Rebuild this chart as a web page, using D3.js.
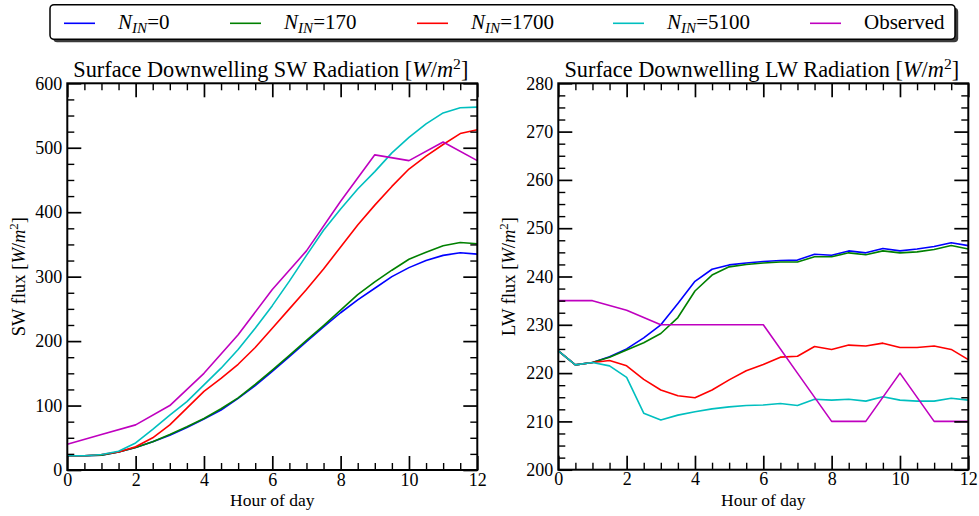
<!DOCTYPE html>
<html>
<head>
<meta charset="utf-8">
<script src="https://cdn.jsdelivr.net/npm/d3@7"></script>
<style>
  body { margin: 0; background: #fff; }
  svg { display: block; }
  text { font-family: "Liberation Serif", "Times New Roman", serif; fill: #000; }
</style>
</head>
<body>
<svg id="chart" width="979" height="516"></svg>
<script>
// Model output every half hour
const modelHours = [0, 0.5, 1, 1.5, 2, 2.5, 3, 3.5, 4, 4.5, 5, 5.5, 6, 6.5, 7, 7.5, 8, 8.5, 9, 9.5, 10, 10.5, 11, 11.5, 12];
// Observations every hour
const obsHours = [0, 1, 2, 3, 4, 5, 6, 7, 8, 9, 10, 11, 12];

// Surface downwelling shortwave [W/m^2]
const swN0    = [22, 22, 23, 28, 35, 44, 54, 66, 79, 93, 111, 131, 153, 176, 199, 222, 244, 264, 282, 300, 314, 325, 333, 337, 335];
const swN170  = [22, 22, 23, 28, 35, 44, 55, 67, 80, 95, 112, 133, 155, 178, 201, 224, 248, 272, 292, 310, 327, 338, 348, 353, 351];
const swN1700 = [22, 22, 24, 28, 36, 50, 70, 96, 122, 142, 164, 190, 220, 250, 280, 312, 346, 380, 411, 440, 467, 487, 505, 522, 528];
const swN5100 = [22, 22, 24, 29, 42, 63, 85, 106, 132, 158, 187, 220, 255, 293, 333, 372, 405, 436, 463, 492, 516, 537, 554, 562, 563];
const swObs   = [40, 55, 70, 100, 150, 210, 280, 340, 417, 489, 480, 509, 480];

// Surface downwelling longwave [W/m^2]
const lwN0    = [224.6, 221.7, 222.2, 223.4, 225.0, 227.3, 230.0, 234.4, 239.0, 241.5, 242.4, 242.8, 243.1, 243.3, 243.4, 244.6, 244.4, 245.3, 244.9, 245.8, 245.3, 245.7, 246.2, 247.0, 246.4];
const lwN170  = [224.6, 221.7, 222.2, 223.3, 224.8, 226.3, 228.2, 231.5, 237.0, 240.3, 242.0, 242.5, 242.8, 243.0, 243.0, 244.1, 244.1, 244.9, 244.5, 245.3, 244.9, 245.1, 245.6, 246.4, 245.7];
const lwN1700 = [224.6, 221.7, 222.2, 222.6, 221.5, 218.7, 216.5, 215.3, 214.9, 216.5, 218.6, 220.5, 221.8, 223.3, 223.5, 225.5, 224.9, 225.8, 225.6, 226.2, 225.3, 225.3, 225.6, 224.9, 222.8];
const lwN5100 = [224.6, 221.7, 222.2, 221.5, 219.1, 211.7, 210.3, 211.3, 212.0, 212.6, 213.0, 213.3, 213.4, 213.7, 213.3, 214.6, 214.4, 214.6, 214.2, 215.1, 214.4, 214.2, 214.2, 214.8, 214.4];
const lwObs   = [235, 235, 233, 230, 230, 230, 230, 220, 210, 210, 220, 210, 210];

// Legend entries: IN concentration label, or null for observations
const seriesNames = ["0", "170", "1700", "5100", null];
const seriesColors = ["#0000ff", "#008000", "#ff0000", "#00bfbf", "#bf00bf"];

const xMajorTicks = [0, 2, 4, 6, 8, 10, 12];
const swMajorTicks = [0, 100, 200, 300, 400, 500, 600];
const lwMajorTicks = [200, 210, 220, 230, 240, 250, 260, 270, 280];

const svg = d3.select("#chart");

const panels = [
  {
    left: 67.3, right: 477.3, top: 83.3, bottom: 470,
    yDomain: [0, 600], yMajor: swMajorTicks, yMinorStep: 25,
    title: "SW", ylabel: "SW flux ", ylabelX: 25,
    series: [swN0, swN170, swN1700, swN5100], obs: swObs
  },
  {
    left: 558.3, right: 968.3, top: 83.3, bottom: 469.7,
    yDomain: [200, 280], yMajor: lwMajorTicks, yMinorStep: 2.5,
    title: "LW", ylabel: "LW flux ", ylabelX: 515,
    series: [lwN0, lwN170, lwN1700, lwN5100], obs: lwObs
  }
];

// Appends "[W/m^2]" in math style to a text element
function appendUnits(t, supShift) {
  t.append("tspan").text("[");
  t.append("tspan").attr("font-style", "italic").text("W");
  t.append("tspan").text("/");
  t.append("tspan").attr("font-style", "italic").text("m");
  t.append("tspan").attr("font-size", "70%").attr("dy", -supShift).text("2");
  t.append("tspan").attr("dy", supShift).text("]");
}

panels.forEach(p => {
  const x = d3.scaleLinear().domain([0, 12]).range([p.left, p.right]);
  const y = d3.scaleLinear().domain(p.yDomain).range([p.bottom, p.top]);
  const g = svg.append("g");

  const xMinor = d3.range(0, 12.0001, 0.5).filter(v => !xMajorTicks.includes(v));
  const yMinor = d3.range(p.yDomain[0], p.yDomain[1] + 1e-6, p.yMinorStep)
    .filter(v => !p.yMajor.some(m => Math.abs(m - v) < 1e-6));

  // data lines
  const line = d3.line().x(d => x(d[0])).y(d => y(d[1]));
  p.series.forEach((vals, i) => {
    g.append("path")
      .datum(modelHours.map((h, k) => [h, vals[k]]))
      .attr("d", line)
      .attr("fill", "none")
      .attr("stroke", seriesColors[i])
      .attr("stroke-width", 1.6)
      .attr("stroke-linejoin", "round");
  });
  g.append("path")
    .datum(obsHours.map((h, k) => [h, p.obs[k]]))
    .attr("d", line)
    .attr("fill", "none")
    .attr("stroke", seriesColors[4])
    .attr("stroke-width", 1.6)
    .attr("stroke-linejoin", "round");

  // inward ticks on all four sides
  const addAxis = (axis, tx, ty, size) => {
    const a = g.append("g").attr("transform", `translate(${tx},${ty})`).call(axis);
    a.select(".domain").remove();
    a.selectAll(".tick line").attr("stroke", "#000").attr("stroke-width", size > 10 ? 1.7 : 1.4);
    a.selectAll("text").attr("font-size", 18).attr("font-family", null).attr("fill", "#000");
    return a;
  };
  const fmt = d3.format("d");
  addAxis(d3.axisBottom(x).tickValues(xMajorTicks).tickSize(-14).tickPadding(3).tickFormat(fmt), 0, p.bottom, 14);
  addAxis(d3.axisBottom(x).tickValues(xMinor).tickSize(-7).tickFormat(""), 0, p.bottom, 7);
  addAxis(d3.axisTop(x).tickValues(xMajorTicks).tickSize(-14).tickFormat(""), 0, p.top, 14);
  addAxis(d3.axisTop(x).tickValues(xMinor).tickSize(-7).tickFormat(""), 0, p.top, 7);
  addAxis(d3.axisLeft(y).tickValues(p.yMajor).tickSize(-14).tickPadding(5).tickFormat(fmt), p.left, 0, 14);
  addAxis(d3.axisLeft(y).tickValues(yMinor).tickSize(-7).tickFormat(""), p.left, 0, 7);
  addAxis(d3.axisRight(y).tickValues(p.yMajor).tickSize(-14).tickFormat(""), p.right, 0, 14);
  addAxis(d3.axisRight(y).tickValues(yMinor).tickSize(-7).tickFormat(""), p.right, 0, 7);

  // frame
  g.append("rect")
    .attr("x", p.left).attr("y", p.top)
    .attr("width", p.right - p.left).attr("height", p.bottom - p.top)
    .attr("fill", "none").attr("stroke", "#000").attr("stroke-width", 2);

  // title
  const cx = (p.left + p.right) / 2;
  const t = g.append("text").attr("x", cx - 1.5).attr("y", 77)
    .attr("text-anchor", "middle").attr("font-size", 22.3);
  t.append("tspan").text(`Surface Downwelling ${p.title} Radiation `);
  appendUnits(t, 8);

  // x label
  g.append("text").attr("x", cx).attr("y", 505.5)
    .attr("text-anchor", "middle").attr("font-size", 17.5).text("Hour of day");

  // y label
  const cy = (p.top + p.bottom) / 2;
  const yl = g.append("text")
    .attr("transform", `translate(${p.ylabelX},${cy}) rotate(-90)`)
    .attr("text-anchor", "middle").attr("font-size", 18.5);
  yl.append("tspan").text(p.ylabel);
  appendUnits(yl, 7);
});

// legend with drop shadow
const legend = svg.append("g");
legend.append("rect")
  .attr("x", 53.2).attr("y", 7.7).attr("width", 905).attr("height", 34.6)
  .attr("rx", 4).attr("fill", "#3a3a3a");
legend.append("rect")
  .attr("x", 50).attr("y", 4.7).attr("width", 905).attr("height", 34.6)
  .attr("rx", 4).attr("fill", "#fff").attr("stroke", "#000").attr("stroke-width", 1.5);

const legendItemX = [64, 230, 417, 613, 810];
seriesNames.forEach((name, i) => {
  const lx = legendItemX[i];
  legend.append("line")
    .attr("x1", lx).attr("x2", lx + 31).attr("y1", 23.3).attr("y2", 23.3)
    .attr("stroke", seriesColors[i]).attr("stroke-width", 1.6);
  const t = legend.append("text").attr("x", lx + 54).attr("y", 28.5).attr("font-size", 21);
  if (name === null) {
    t.text("Observed");
  } else {
    t.append("tspan").attr("font-style", "italic").text("N");
    t.append("tspan").attr("font-style", "italic").attr("font-size", "72%").attr("dy", 4.5).text("IN");
    t.append("tspan").attr("dy", -4.5).text("=" + name);
  }
});
</script>
</body>
</html>
